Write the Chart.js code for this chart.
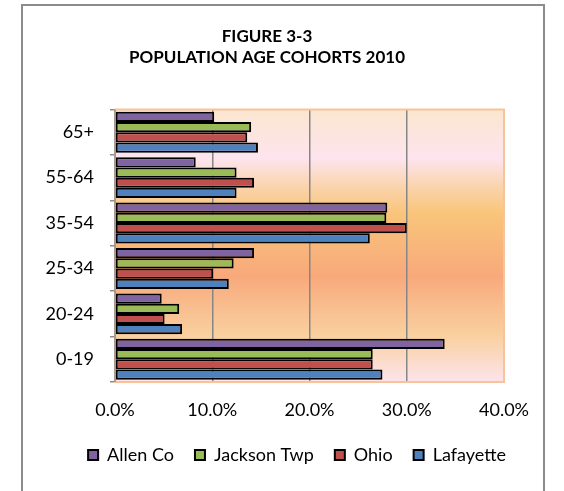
<!DOCTYPE html>
<html>
<head>
<meta charset="utf-8">
<script src="https://cdn.jsdelivr.net/npm/chart.js@4.4.1/dist/chart.umd.min.js"></script>
<style>
    body { margin: 0; background: #fff; }
    #wrap { position: relative; width: 564px; height: 491px; }
    #frame { position: absolute; left: 21px; top: 4px; width: 524px; height: 500px; border: 2px solid #8c8c8c; box-sizing: border-box; }
    canvas { position: absolute; left: 0; top: 0; }
</style>
</head>
<body>
<div id="wrap">
    <div id="frame"></div>
    <canvas id="cohortChart" width="564" height="491"></canvas>
</div>
<script>
// age cohorts, top to bottom as in the figure
const cohorts = ['65+', '55-64', '35-54', '25-34', '20-24', '0-19'];

// share of population, percent
const allenCo = [10.2, 8.3, 28.0, 14.3, 4.8, 33.9];
const jacksonTwp = [14.0, 12.5, 27.9, 12.2, 6.6, 26.5];
const ohio = [13.6, 14.3, 30.0, 10.1, 5.1, 26.5];
const lafayette = [14.7, 12.5, 26.2, 11.7, 6.9, 27.5];

const xTicks = [0, 10, 20, 30, 40];

const fontName = 'Lato, "Noto Sans", sans-serif';

// plot area background + border, like the excel chart
const plotBackground = {
    id: 'plotBackground',
    afterLayout: function (chart) {
        // nudge legend so it sits where the excel one does
        chart.legend.left += 30;
        chart.legend.right += 30;
    },
    beforeDraw: function (chart) {
        const a = chart.chartArea;
        const ctx = chart.ctx;
        const g = ctx.createLinearGradient(0, a.top, 0, a.bottom);
        g.addColorStop(0, '#fbe6cf');
        g.addColorStop(0.18, '#fde4ef');
        g.addColorStop(0.27, '#fbd6b4');
        g.addColorStop(0.38, '#f9c57a');
        g.addColorStop(0.61, '#f8a97c');
        g.addColorStop(0.83, '#f9d09f');
        g.addColorStop(1, '#fde4ed');
        ctx.save();
        ctx.fillStyle = g;
        ctx.fillRect(a.left, a.top, a.right - a.left, a.bottom - a.top);
        ctx.restore();
    },
    afterDraw: function (chart) {
        const a = chart.chartArea;
        const ctx = chart.ctx;
        ctx.save();
        ctx.strokeStyle = '#f9c39a';
        ctx.lineWidth = 2;
        ctx.strokeRect(a.left, a.top, a.right - a.left, a.bottom - a.top);
        // y axis line on top
        ctx.strokeStyle = '#8c8c8c';
        ctx.lineWidth = 1.5;
        ctx.beginPath();
        ctx.moveTo(a.left, a.top);
        ctx.lineTo(a.left, a.bottom);
        ctx.stroke();
        ctx.restore();
    }
};

const ctx = document.getElementById('cohortChart').getContext('2d');

new Chart(ctx, {
    type: 'bar',
    data: {
        labels: cohorts,
        datasets: [
            { label: 'Allen Co', data: allenCo, backgroundColor: '#8064a2' },
            { label: 'Jackson Twp', data: jacksonTwp, backgroundColor: '#9bbb59' },
            { label: 'Ohio', data: ohio, backgroundColor: '#c0504d' },
            { label: 'Lafayette', data: lafayette, backgroundColor: '#4f81bd' }
        ]
    },
    options: {
        indexAxis: 'y',
        responsive: false,
        animation: false,
        datasets: {
            bar: {
                borderColor: '#000',
                borderWidth: 2,
                borderSkipped: false,
                categoryPercentage: 0.9,
                barPercentage: 1
            }
        },
        layout: {
            padding: { left: 30, right: 60, top: 0, bottom: 17 }
        },
        plugins: {
            title: {
                display: true,
                text: ['FIGURE 3-3', 'POPULATION AGE COHORTS 2010'],
                color: '#000',
                font: { family: fontName, size: 17, weight: 'bold', lineHeight: 1.25 },
                padding: { top: 26, bottom: 41 }
            },
            legend: {
                position: 'bottom',
                labels: {
                    color: '#000',
                    font: { family: fontName, size: 18 },
                    boxWidth: 10,
                    boxHeight: 10,
                    padding: 21
                }
            },
            tooltip: { enabled: false }
        },
        scales: {
            x: {
                min: 0,
                max: 40,
                afterBuildTicks: function (scale) {
                    scale.ticks = xTicks.map(v => ({ value: v }));
                },
                ticks: {
                    color: '#000',
                    font: { family: fontName, size: 18 },
                    padding: 17,
                    callback: v => v.toFixed(1) + '%'
                },
                grid: {
                    color: c => (c.tick.value === 0 || c.tick.value === 40) ? 'rgba(0,0,0,0)' : '#868686',
                    lineWidth: 1.5,
                    drawTicks: false
                },
                border: { display: false },
                afterFit: function (scale) { scale.height = 43; }
            },
            y: {
                ticks: {
                    color: '#000',
                    font: { family: fontName, size: 18 },
                    padding: 16
                },
                grid: {
                    offset: true,
                    drawOnChartArea: false,
                    drawTicks: true,
                    tickLength: 5,
                    color: '#8c8c8c',
                    lineWidth: 1.5
                },
                border: { display: false },
                afterFit: function (scale) { scale.width = 85; }
            }
        }
    },
    plugins: [plotBackground]
});
</script>
</body>
</html>
